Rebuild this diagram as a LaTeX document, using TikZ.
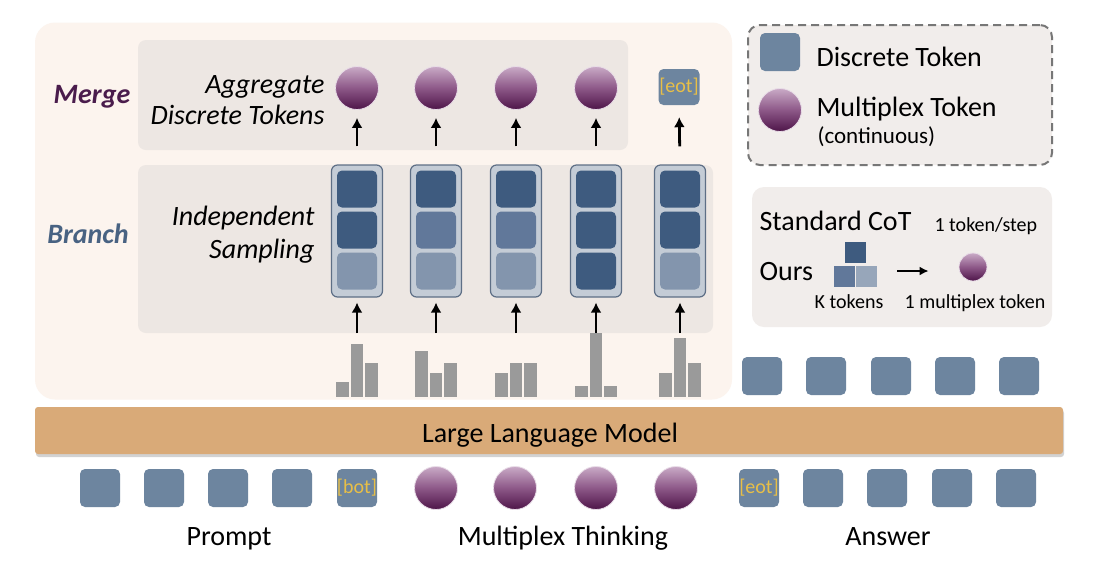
\documentclass[tikz,border=0pt]{standalone}
\usepackage{fontspec}
\setmainfont{Carlito}
\usetikzlibrary{arrows.meta,shadows}
\definecolor{panel}{HTML}{FCF4EE}
\definecolor{inbox}{HTML}{EDE7E3}
\definecolor{tok}{HTML}{6D859F}
\definecolor{dk}{HTML}{3E5B7F}
\definecolor{md}{HTML}{61789A}
\definecolor{lt}{HTML}{8395AD}
\definecolor{llt}{HTML}{97A6BA}
\definecolor{colfill}{HTML}{C4CCD6}
\definecolor{coldraw}{HTML}{5E6F86}
\definecolor{barc}{HTML}{9A9A9A}
\definecolor{llm}{HTML}{D9AA78}
\definecolor{gold}{HTML}{E8BF47}
\definecolor{mergec}{HTML}{4A1C4C}
\definecolor{branchc}{HTML}{486282}
\definecolor{sphtop}{HTML}{C9AAC6}
\definecolor{sphmid}{HTML}{8D5888}
\definecolor{sphbot}{HTML}{4E1549}
\definecolor{legfill}{HTML}{F1EDEB}
\definecolor{legdraw}{HTML}{777777}
\tikzset{
  big/.style={font=\fontsize{28}{31}\selectfont},
  small/.style={font=\fontsize{20}{22}\selectfont},
  tokbox/.style={rectangle, rounded corners=5pt, minimum width=40pt, minimum height=38pt, fill=tok, inner sep=0pt},
  tagtxt/.style={text=gold, font=\fontsize{20}{21}\selectfont, inner sep=0pt},
  sph/.style={circle, minimum size=43pt, inner sep=0pt, top color=sphtop, bottom color=sphbot, middle color=sphmid, draw=sphtop!40!white, line width=0.8pt},
  colbox/.style={rectangle, rounded corners=6pt, minimum width=51pt, minimum height=132pt, fill=colfill, draw=coldraw, line width=1.2pt},
  cell/.style={rectangle, rounded corners=5pt, minimum width=40pt, minimum height=37pt, inner sep=0pt},
  arr/.style={-{Latex[length=10pt,width=11pt]}, line width=2.8pt, black},
  minisq/.style={rectangle, minimum size=21pt, inner sep=0pt}
}
\begin{document}
\begin{tikzpicture}[x=1pt,y=-1pt]
\useasboundingbox (0,0) rectangle (1097,566);
\fill[white] (0,0) rectangle (1097,566);

% main panel
\node[fill=panel, rounded corners=20pt, minimum width=697pt, minimum height=377pt, inner sep=0pt] (panel) at (383.5,211) {};
\node[fill=inbox, rounded corners=8pt, minimum width=490pt, minimum height=110pt, inner sep=0pt] (mergebox) at (383,95) {};
\node[fill=inbox, rounded corners=8pt, minimum width=575pt, minimum height=168pt, inner sep=0pt] (branchbox) at (425.5,249) {};

\node[font=\fontsize{28}{31}\selectfont\bfseries\itshape, text=mergec] (merge) at (92,97) {Merge};
\node[font=\fontsize{28}{31}\selectfont\bfseries\itshape, text=branchc] (branch) at (88,234) {Branch};
\node[font=\fontsize{28}{31}\selectfont\itshape, align=right, anchor=east] (agg) at (328,100) {Aggregate\\Discrete Tokens};
\node[font=\fontsize{28}{33}\selectfont\itshape, align=right, anchor=east] (indep) at (318,235) {Independent\\Sampling};

% columns
\foreach \i/\x/\ca/\cb/\cc in {1/357/dk/dk/lt, 2/436/dk/md/lt, 3/516/dk/md/lt, 4/596/dk/dk/dk, 5/680/dk/dk/lt}{
  \node[colbox] (col\i) at (\x,231) {};
  \node[cell, fill=\ca] (cell\i-1) at (\x,189) {};
  \node[cell, fill=\cb] (cell\i-2) at (\x,230) {};
  \node[cell, fill=\cc] (cell\i-3) at (\x,271) {};
  \coordinate (bin\i) at (\x,333);
  \draw[arr, shorten >=5pt] (bin\i) -- (col\i.south);
}
% merge tokens
\foreach \i/\x in {1/357, 2/436, 3/516, 4/596}{
  \node[sph] (m\i) at (\x,88) {};
  \draw[arr, shorten <=18pt, shorten >=8pt] (col\i.north) -- (m\i.south);
}
\node[tokbox, minimum width=41pt, minimum height=36pt] (m5) at (679,87) {};
\node[tagtxt] (m5t) at (m5) {[eot]};
\draw[arr, shorten <=18pt, shorten >=12pt] (col5.north) -- (m5.south);

% histograms
\foreach \x/\a/\b/\c in {357/382/344/363, 436/351/373/363, 516/373/363/363, 596/386/333/386, 680/373/338/363}{
  \fill[barc] (\x-21,397) rectangle (\x-8,\a);
  \fill[barc] (\x-6,397) rectangle (\x+6,\b);
  \fill[barc] (\x+8,397) rectangle (\x+21,\c);
}

% answer tokens above LLM
\foreach \i/\x in {1/762, 2/826, 3/891, 4/955, 5/1019}{
  \node[tokbox] (ans\i) at (\x,376) {};
}

% LLM bar
\node[fill=llm, rounded corners=3pt, minimum width=1028pt, minimum height=47pt, inner sep=0pt,
      drop shadow={opacity=0.35, shadow xshift=1pt, shadow yshift=-3pt}] (llmbar) at (549,430.5) {};
\node[big, anchor=base] (llmtxt) at (550,442) {Large Language Model};

% bottom row
\foreach \i/\x in {1/100, 2/164, 3/228, 4/292}{
  \node[tokbox] (p\i) at (\x,488) {};
}
\node[tokbox] (bot) at (357,488) {};
\node[tagtxt] (bott) at (bot) {[bot]};
\foreach \i/\x in {1/436, 2/515, 3/596, 4/676}{
  \node[sph] (t\i) at (\x,488) {};
}
\node[tokbox] (eot) at (759,488) {};
\node[tagtxt] (eott) at (eot) {[eot]};
\foreach \i/\x in {1/823, 2/887, 3/952, 4/1016}{
  \node[tokbox] (a\i) at (\x,488) {};
}
\node[big, anchor=base] (prompt) at (229,545) {Prompt};
\node[big, anchor=base] (mthink) at (563,545) {Multiplex Thinking};
\node[big, anchor=base] (answer) at (888,545) {Answer};

% legend 1
\node[fill=legfill, draw=legdraw, line width=2pt, dash pattern=on 8pt off 5pt, rounded corners=12pt,
      minimum width=304pt, minimum height=140pt, inner sep=0pt] (leg1) at (900,95) {};
\node[tokbox] (legsq) at (780,52) {};
\node[big, anchor=base west] (legsqt) at (813,66) {Discrete Token};
\node[sph] (legsph) at (780,110) {};
\node[big, anchor=base west] (legspht) at (813,116) {Multiplex Token};
\node[font=\fontsize{23}{25}\selectfont, anchor=base west] (legcont) at (814,143) {(continuous)};

% legend 2
\node[fill=legfill, rounded corners=12pt, minimum width=300pt, minimum height=140pt, inner sep=0pt] (leg2) at (902,257) {};
\node[big, anchor=base west] (stdcot) at (756,230) {Standard CoT};
\node[small, anchor=base west] (onetok) at (931,231) {1 token/step};
\node[big, anchor=base west] (ours) at (756,280) {Ours};
\node[minisq, fill=dk] (sqa) at (855.5,252) {};
\node[minisq, fill=md] (sqb) at (844.5,276.5) {};
\node[minisq, fill=llt] (sqc) at (866.5,276.5) {};
\node[small, anchor=base] (ktok) at (849,308) {K tokens};
\node[sph, minimum size=28pt] (legsph2) at (973,267) {};
\node[small, anchor=base] (onemult) at (975,308) {1 multiplex token};
\coordinate (ly) at (0,271);
\draw[-{Latex[length=9pt,width=9pt]}, line width=2.2pt, shorten <=20pt, shorten >=30pt] (sqc.east |- ly) -- (legsph2.west |- ly);
\end{tikzpicture}
\end{document}
